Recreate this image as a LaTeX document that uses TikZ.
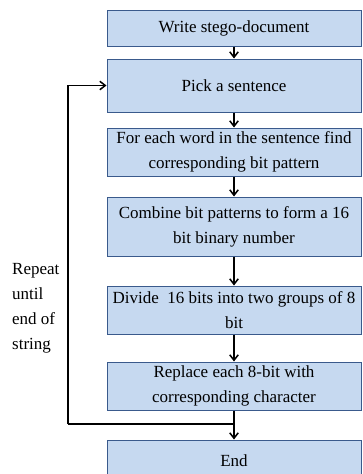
\documentclass[tikz,border=0pt]{standalone}
\usepackage{fontspec}
\setmainfont{Liberation Serif}
\usetikzlibrary{arrows.meta,positioning}
\definecolor{boxfill}{HTML}{C6D9F0}
\definecolor{boxdraw}{HTML}{3A5A8C}
\tikzset{
  flowbox/.style={draw=boxdraw, fill=boxfill, line width=1pt, minimum width=254pt,
    align=center, inner sep=0pt, font=\fontsize{17}{25}\selectfont},
  flowarrow/.style={draw=black, line width=1.5pt, -{Straight Barb[length=5.5pt,width=8.5pt,line width=1.5pt]}},
  flowline/.style={draw=black, line width=1.5pt}
}
\begin{document}
\begin{tikzpicture}[x=1pt,y=-1pt]
\useasboundingbox (0,0) rectangle (363,474);
\clip (0,0) rectangle (363,474);
\node[flowbox, minimum height=36pt] (b1) at (234,28) {Write stego-document};
\node[flowbox, minimum height=53pt] (b2) at (234,85.5) {Pick a sentence};
\node[flowbox, minimum height=48pt] (b3) at (234,152) {For each word in the sentence find\\corresponding bit pattern};
\node[flowbox, minimum height=59pt] (b4) at (234,226.5) {Combine bit patterns to form a 16\\bit binary number};
\node[flowbox, minimum height=48pt] (b5) at (234,310) {Divide~ 16 bits into two groups of 8\\bit};
\node[flowbox, minimum height=48pt] (b6) at (234,386) {Replace each 8-bit with\\corresponding character};
\node[flowbox, minimum height=42pt] (b7) at (234,461) {End};
\node[anchor=north west, align=left, inner sep=0pt, font=\fontsize{17}{25}\selectfont] (lbl) at (12,263) {Repeat\\until\\end of\\string};
\coordinate (lb) at (68,424);
\coordinate (jn) at (234,424);
\draw[flowarrow] (b1) -- (b2);
\draw[flowarrow] (b2) -- (b3);
\draw[flowarrow] (b3) -- (b4);
\draw[flowarrow] (b4) -- (b5);
\draw[flowarrow] (b5) -- (b6);
\draw[flowarrow] (b6) -- (b7);
\draw[flowline] (jn) -- (lb);
\draw[flowarrow] (lb) -- (lb |- b2.west) -- (b2.west);
\end{tikzpicture}
\end{document}
